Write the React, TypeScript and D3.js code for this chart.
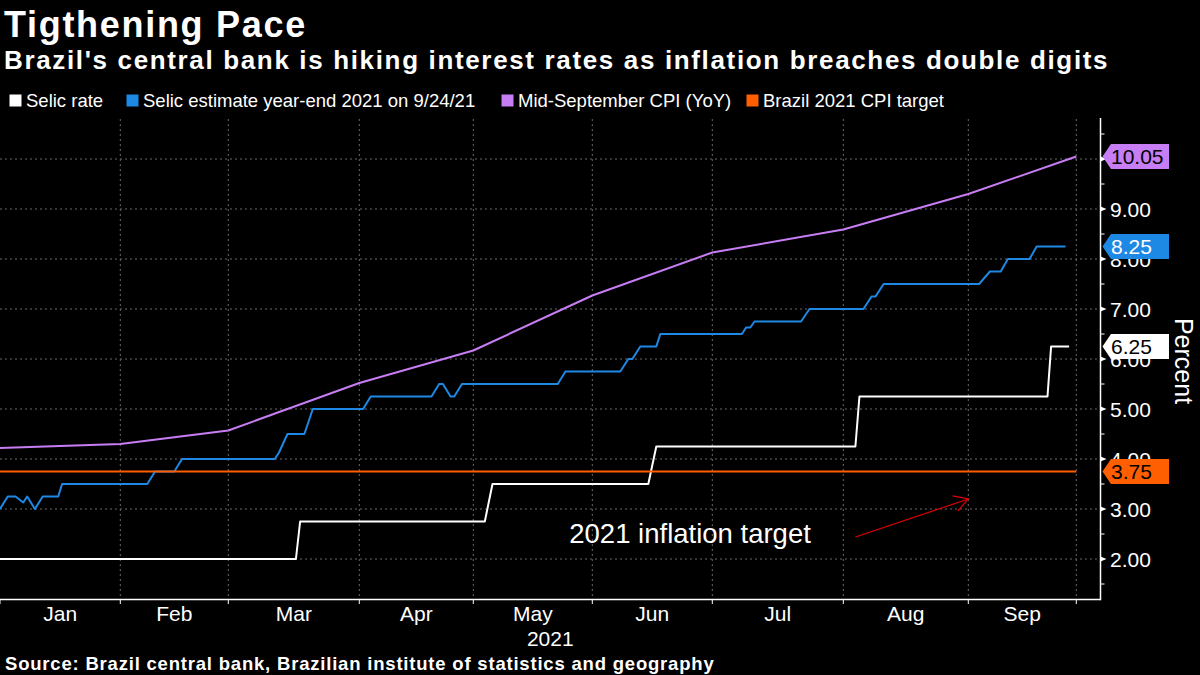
import React from "react";
import * as d3 from "d3";

// ---------- DATA ----------
const monthStarts = [
  "2021-01-01", "2021-02-01", "2021-03-01", "2021-04-01", "2021-05-01",
  "2021-06-01", "2021-07-01", "2021-08-01", "2021-09-01", "2021-10-01",
];
const monthLabels = ["Jan", "Feb", "Mar", "Apr", "May", "Jun", "Jul", "Aug", "Sep"];
const yearLabel = "2021";
const yTickValues = [2, 3, 4, 5, 6, 7, 8, 9, 10];

const seriesNames = [
  "Selic rate",
  "Selic estimate year-end 2021 on 9/24/21",
  "Mid-September CPI (YoY)",
  "Brazil 2021 CPI target",
];
const seriesColors = ["#ffffff", "#1e88e5", "#c77df3", "#ff5f00"];
const badgeTextColors = ["#000000", "#ffffff", "#000000", "#000000"];

const selicDates = [
  "2021-01-01", "2021-03-17", "2021-03-18", "2021-05-04", "2021-05-06",
  "2021-06-15", "2021-06-17", "2021-08-04", "2021-08-05", "2021-09-23",
  "2021-09-24", "2021-09-29",
];
const selicValues = [2, 2, 2.75, 2.75, 3.5, 3.5, 4.25, 4.25, 5.25, 5.25, 6.25, 6.25];

const estimateDates = [
  "2021-01-01", "2021-01-03", "2021-01-05", "2021-01-07", "2021-01-08", "2021-01-10", "2021-01-12", "2021-01-16", "2021-01-17",
  "2021-02-08", "2021-02-10", "2021-02-15", "2021-02-17",
  "2021-03-12", "2021-03-13", "2021-03-15", "2021-03-19", "2021-03-21",
  "2021-04-02", "2021-04-04", "2021-04-20", "2021-04-22", "2021-04-23", "2021-04-25", "2021-04-26", "2021-04-28",
  "2021-05-23", "2021-05-25",
  "2021-06-08", "2021-06-10", "2021-06-11", "2021-06-13", "2021-06-17", "2021-06-18",
  "2021-07-08", "2021-07-09", "2021-07-10", "2021-07-11", "2021-07-22", "2021-07-24",
  "2021-08-06", "2021-08-08", "2021-08-09", "2021-08-11",
  "2021-09-04", "2021-09-07", "2021-09-10", "2021-09-12", "2021-09-18", "2021-09-20", "2021-09-28",
];
const estimateValues = [
  3.0, 3.25, 3.25, 3.13, 3.25, 3.0, 3.25, 3.25, 3.5,
  3.5, 3.75, 3.75, 4.0,
  4.0, 4.13, 4.5, 4.5, 5.0,
  5.0, 5.25, 5.25, 5.5, 5.5, 5.25, 5.25, 5.5,
  5.5, 5.75,
  5.75, 6.0, 6.0, 6.25, 6.25, 6.5,
  6.5, 6.63, 6.63, 6.75, 6.75, 7.0,
  7.0, 7.25, 7.25, 7.5,
  7.5, 7.75, 7.75, 8.0, 8.0, 8.25, 8.25,
];

const cpiDates = monthStarts;
const cpiValues = [4.22, 4.3, 4.57, 5.52, 6.17, 7.27, 8.13, 8.59, 9.3, 10.05];

const targetDates = ["2021-01-01", "2021-10-01"];
const targetValues = [3.75, 3.75];

const annotationText = "2021 inflation target";
const annotationTextAt = { date: "2021-05-26", value: 2.32 };
const arrowFrom = { date: "2021-08-04", value: 2.44 };
const arrowTo = { date: "2021-09-01", value: 3.2 };

const titleText = "Tigthening Pace";
const subtitleText = "Brazil's central bank is hiking interest rates as inflation breaches double digits";
const sourceText = "Source: Brazil central bank, Brazilian institute of statistics and geography";
const axisTitle = "Percent";

// ---------- LAYOUT ----------
const W = 1200;
const H = 675;
const FONT = "'Liberation Sans', Arial, Helvetica, sans-serif";
const plotLeft = 0;
const plotRight = 1100.5;
const plotTop = 119;
const plotBottom = 599;
const legendX = [9.5, 126.5, 501.5, 746.5];

const parse = d3.timeParse("%Y-%m-%d");

export default function App() {
  const x = d3
    .scaleTime()
    .domain(monthStarts.map((d) => parse(d) as Date))
    .range([0, 120.3, 228.3, 359.3, 473.3, 592.3, 712.3, 843.3, 968.3, 1076.3]);
  const y = d3.scaleLinear().domain([1.2, 10.8]).range([plotBottom, plotTop]);

  const line = d3
    .line<[string, number]>()
    .x((d) => x(parse(d[0]) as Date))
    .y((d) => y(d[1]));

  const zip = (ds: string[], vs: number[]) => ds.map((d, i) => [d, vs[i]] as [string, number]);
  const series = [
    zip(selicDates, selicValues),
    zip(estimateDates, estimateValues),
    zip(cpiDates, cpiValues),
    zip(targetDates, targetValues),
  ];
  const drawOrder = [2, 1, 0, 3];
  const lastValues = series.map((s) => s[s.length - 1][1]);

  const minorTicks = d3.range(1.5, 10.6, 1);
  const monthX = monthStarts.map((d) => x(parse(d) as Date));

  // tick labels entirely covered by a value badge are not drawn (as in the reference)
  const visibleTickLabels = yTickValues.filter(
    (v) => !lastValues.some((lv) => Math.abs(lv - v) < 0.1)
  );

  // arrow geometry
  const ax1 = x(parse(arrowFrom.date) as Date);
  const ay1 = y(arrowFrom.value);
  const ax2 = x(parse(arrowTo.date) as Date);
  const ay2 = y(arrowTo.value);
  const ang = Math.atan2(ay1 - ay2, ax1 - ax2);
  const headLen = 16;
  const headSpread = (30 * Math.PI) / 180;
  const h1 = [ax2 + headLen * Math.cos(ang - headSpread), ay2 + headLen * Math.sin(ang - headSpread)];
  const h2 = [ax2 + headLen * Math.cos(ang + headSpread), ay2 + headLen * Math.sin(ang + headSpread)];

  const badgeH = 25;
  const badgeTip = 1102.5;
  const badgeShoulder = 1111;
  const badgeRight = 1169;

  return (
    <div style={{ position: "fixed", left: 0, top: 0, width: W, height: H, background: "#000" }}>
      <svg width={W} height={H} style={{ display: "block", fontFamily: FONT }}>
        <rect x={0} y={0} width={W} height={H} fill="#000" />

        {/* Titles */}
        <text x={4} y={37} fill="#fff" fontSize={36} fontWeight="bold" letterSpacing={1.7}>
          {titleText}
        </text>
        <text x={4} y={68.5} fill="#fff" fontSize={26} fontWeight="bold" letterSpacing={1.65}>
          {subtitleText}
        </text>

        {/* Legend */}
        {seriesNames.map((name, i) => (
          <g key={name}>
            <rect x={legendX[i]} y={94.5} width={12} height={12} fill={seriesColors[i]} />
            <text x={legendX[i] + 16.5} y={106.5} fill="#fff" fontSize={18.5}>
              {name}
            </text>
          </g>
        ))}

        {/* Grid */}
        <g stroke="#6a6a6a" strokeWidth={1} strokeDasharray="2,3">
          {yTickValues.map((v) => (
            <line key={"h" + v} x1={plotLeft} x2={plotRight} y1={y(v)} y2={y(v)} />
          ))}
          {monthX.slice(1).map((mx, i) => (
            <line key={"v" + i} x1={mx} x2={mx} y1={plotTop} y2={plotBottom} />
          ))}
        </g>

        {/* Lines */}
        {drawOrder.map((i) => (
          <path
            key={"s" + i}
            d={line(series[i]) || ""}
            fill="none"
            stroke={seriesColors[i]}
            strokeWidth={2}
            strokeLinejoin="round"
          />
        ))}

        {/* Annotation */}
        <text
          x={x(parse(annotationTextAt.date) as Date)}
          y={y(annotationTextAt.value)}
          fill="#fff"
          fontSize={27.5}
        >
          {annotationText}
        </text>
        <g stroke="#e00000" strokeWidth={1.2} fill="none">
          <line x1={ax1} y1={ay1} x2={ax2} y2={ay2} />
          <polyline points={`${h1[0]},${h1[1]} ${ax2},${ay2} ${h2[0]},${h2[1]}`} />
        </g>

        {/* Bottom axis */}
        <line x1={plotLeft} x2={plotRight} y1={plotBottom + 0.5} y2={plotBottom + 0.5} stroke="#fff" strokeWidth={1.5} />
        {monthX.map((mx, i) => (
          <line key={"bt" + i} x1={mx} x2={mx} y1={plotBottom} y2={plotBottom + 5} stroke="#fff" strokeWidth={1} />
        ))}
        {monthLabels.map((m, i) => (
          <text
            key={m}
            x={(monthX[i] + monthX[i + 1]) / 2}
            y={620.5}
            fill="#fff"
            fontSize={21}
            textAnchor="middle"
          >
            {m}
          </text>
        ))}
        <text x={(plotLeft + plotRight) / 2} y={645.5} fill="#fff" fontSize={21} textAnchor="middle">
          {yearLabel}
        </text>

        {/* Right axis */}
        <line x1={plotRight} x2={plotRight} y1={plotTop - 1} y2={plotBottom + 1.2} stroke="#fff" strokeWidth={1.5} />
        {minorTicks.map((v) => (
          <line key={"mt" + v} x1={plotRight} x2={plotRight + 4} y1={y(v)} y2={y(v)} stroke="#fff" strokeWidth={1} />
        ))}
        {yTickValues.map((v) => (
          <polygon
            key={"tri" + v}
            points={`${plotRight},${y(v) - 2.5} ${plotRight + 6},${y(v)} ${plotRight},${y(v) + 2.5}`}
            fill="#fff"
          />
        ))}
        {visibleTickLabels.map((v) => (
          <text key={"yt" + v} x={1110} y={y(v)} dy="0.36em" fill="#fff" fontSize={21}>
            {d3.format(".2f")(v)}
          </text>
        ))}

        {/* Last-value badges */}
        {[2, 1, 0, 3].map((i) => {
          const v = lastValues[i];
          const cy = y(v);
          return (
            <g key={"b" + i}>
              <polygon
                points={`${badgeTip},${cy} ${badgeShoulder},${cy - badgeH / 2} ${badgeRight},${cy - badgeH / 2} ${badgeRight},${cy + badgeH / 2} ${badgeShoulder},${cy + badgeH / 2}`}
                fill={seriesColors[i]}
              />
              <text x={1111} y={cy} dy="0.36em" fill={badgeTextColors[i]} fontSize={21}>
                {d3.format(".2f")(v)}
              </text>
            </g>
          );
        })}

        <text transform={`translate(1175, 361) rotate(90)`} fill="#fff" fontSize={25} textAnchor="middle">
          {axisTitle}
        </text>

        {/* Source */}
        <text x={5} y={670} fill="#fff" fontSize={18.5} fontWeight="bold" letterSpacing={0.8}>
          {sourceText}
        </text>
      </svg>
    </div>
  );
}
